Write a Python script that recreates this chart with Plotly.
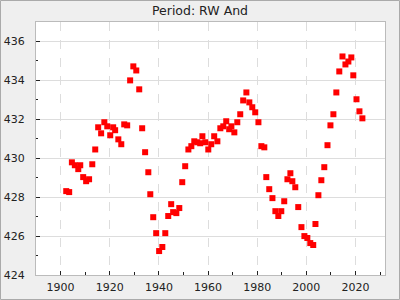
import plotly.graph_objects as go

years = [1902.3, 1903.5, 1904.6, 1905.8, 1907.2, 1908.0, 1909.2, 1910.4, 1911.6, 1912.9,
         1914.1, 1915.3, 1916.5, 1917.8, 1919.0, 1920.2, 1921.4, 1922.2, 1923.5, 1924.7,
         1925.9, 1927.1, 1928.3, 1929.6, 1930.8, 1932.0, 1933.2, 1934.4, 1935.7, 1936.5,
         1937.7, 1938.9, 1940.1, 1941.4, 1942.6, 1943.8, 1945.0, 1945.8, 1947.1, 1948.3,
         1949.5, 1950.7, 1952.0, 1953.2, 1954.4, 1955.6, 1956.8, 1957.7, 1958.9, 1960.1,
         1961.3, 1962.5, 1963.8, 1965.0, 1966.2, 1967.4, 1968.6, 1969.5, 1970.7, 1971.9,
         1973.1, 1974.3, 1975.6, 1976.8, 1978.0, 1979.2, 1980.5, 1981.7, 1982.9, 1983.7,
         1984.9, 1986.2, 1987.4, 1988.6, 1989.8, 1991.0, 1992.3, 1993.5, 1994.3, 1995.5,
         1996.7, 1998.0, 1999.2, 2000.4, 2001.6, 2002.8, 2003.7, 2004.9, 2006.1, 2007.3,
         2008.6, 2009.8, 2011.0, 2012.2, 2013.4, 2014.7, 2015.9, 2017.1, 2018.3, 2019.1,
         2020.4, 2021.6, 2022.8]

periods = [428.31, 428.26, 429.79, 429.64, 429.44, 429.64, 429.03, 428.82, 428.92, 429.69,
           430.45, 431.59, 431.28, 431.85, 431.64, 431.18, 431.59, 431.44, 430.97, 430.72,
           431.74, 431.69, 434.00, 434.72, 434.51, 433.54, 431.54, 430.31, 429.28, 428.15,
           426.97, 426.15, 425.23, 425.44, 426.15, 427.03, 427.64, 427.23, 427.18, 427.44,
           428.77, 429.59, 430.45, 430.62, 430.87, 430.82, 430.77, 431.13, 430.82, 430.45,
           430.72, 431.13, 430.87, 431.54, 431.64, 431.90, 431.49, 431.64, 431.33, 431.85,
           432.26, 432.97, 433.38, 432.87, 432.62, 432.36, 431.85, 430.62, 430.56, 429.03,
           428.41, 427.95, 427.28, 427.03, 427.28, 427.79, 428.92, 429.23, 428.82, 428.51,
           427.49, 426.46, 426.00, 425.90, 425.64, 425.54, 426.62, 428.10, 428.87, 429.54,
           430.67, 431.69, 432.26, 433.38, 434.46, 435.23, 434.82, 434.97, 435.18, 434.26,
           433.03, 432.41, 432.05]

title_text = "Period: RW And"
x_range = [1890, 2032]
y_range = [424, 437]

FONT = "DejaVu Sans, sans-serif"
W, H = 400, 300
ML, MR, MT, MB = 36, 15, 22, 25

fig = go.Figure()
fig.add_trace(go.Scatter(
    x=years, y=periods, mode="markers",
    marker=dict(symbol="square", size=6, color="#ff0000", line=dict(width=0)),
    showlegend=False,
))

pw = W - ML - MR
ph = H - MT - MB
fig.add_shape(type="rect", xref="paper", yref="paper",
              x0=-(ML - 0.5) / pw, x1=1 + (MR - 0.5) / pw,
              y0=-(MB - 0.5) / ph, y1=1 + (MT - 0.5) / ph,
              line=dict(color="#aaaaaa", width=1), layer="below")

fig.update_layout(
    width=W, height=H,
    margin=dict(l=ML, r=MR, t=MT, b=MB, pad=0, autoexpand=False),
    paper_bgcolor="#efefef",
    plot_bgcolor="#ffffff",
    font=dict(family=FONT, size=11, color="#222222"),
    title=dict(text=title_text, x=0.5, xanchor="center", y=1 - 11 / H, yanchor="middle",
               font=dict(family=FONT, size=12.5, color="#222222")),
)
fig.update_xaxes(
    range=x_range, dtick=20, tick0=1900, automargin=False,
    showgrid=True, gridcolor="#dddddd", griddash="dash", gridwidth=1,
    zeroline=False,
    showline=True, linecolor="#bbbbbb", linewidth=1, mirror=True,
    ticks="inside", ticklen=4, tickcolor="#222222",
    minor=dict(dtick=10, tick0=1900, ticks="inside", ticklen=3, tickcolor="#222222", showgrid=False),
    tickfont=dict(size=11, color="#222222"),
    ticklabelstandoff=2,
)
fig.update_yaxes(
    range=y_range, dtick=2, tick0=424, automargin=False,
    showgrid=True, gridcolor="#dddddd", gridwidth=1,
    zeroline=False,
    showline=True, linecolor="#bbbbbb", linewidth=1, mirror=True,
    ticks="inside", ticklen=4, tickcolor="#222222",
    minor=dict(dtick=1, tick0=424, ticks="inside", ticklen=2, tickcolor="#222222", showgrid=False),
    tickfont=dict(size=11, color="#222222"),
    ticklabelstandoff=8,
)

fig.write_html("out.html")
